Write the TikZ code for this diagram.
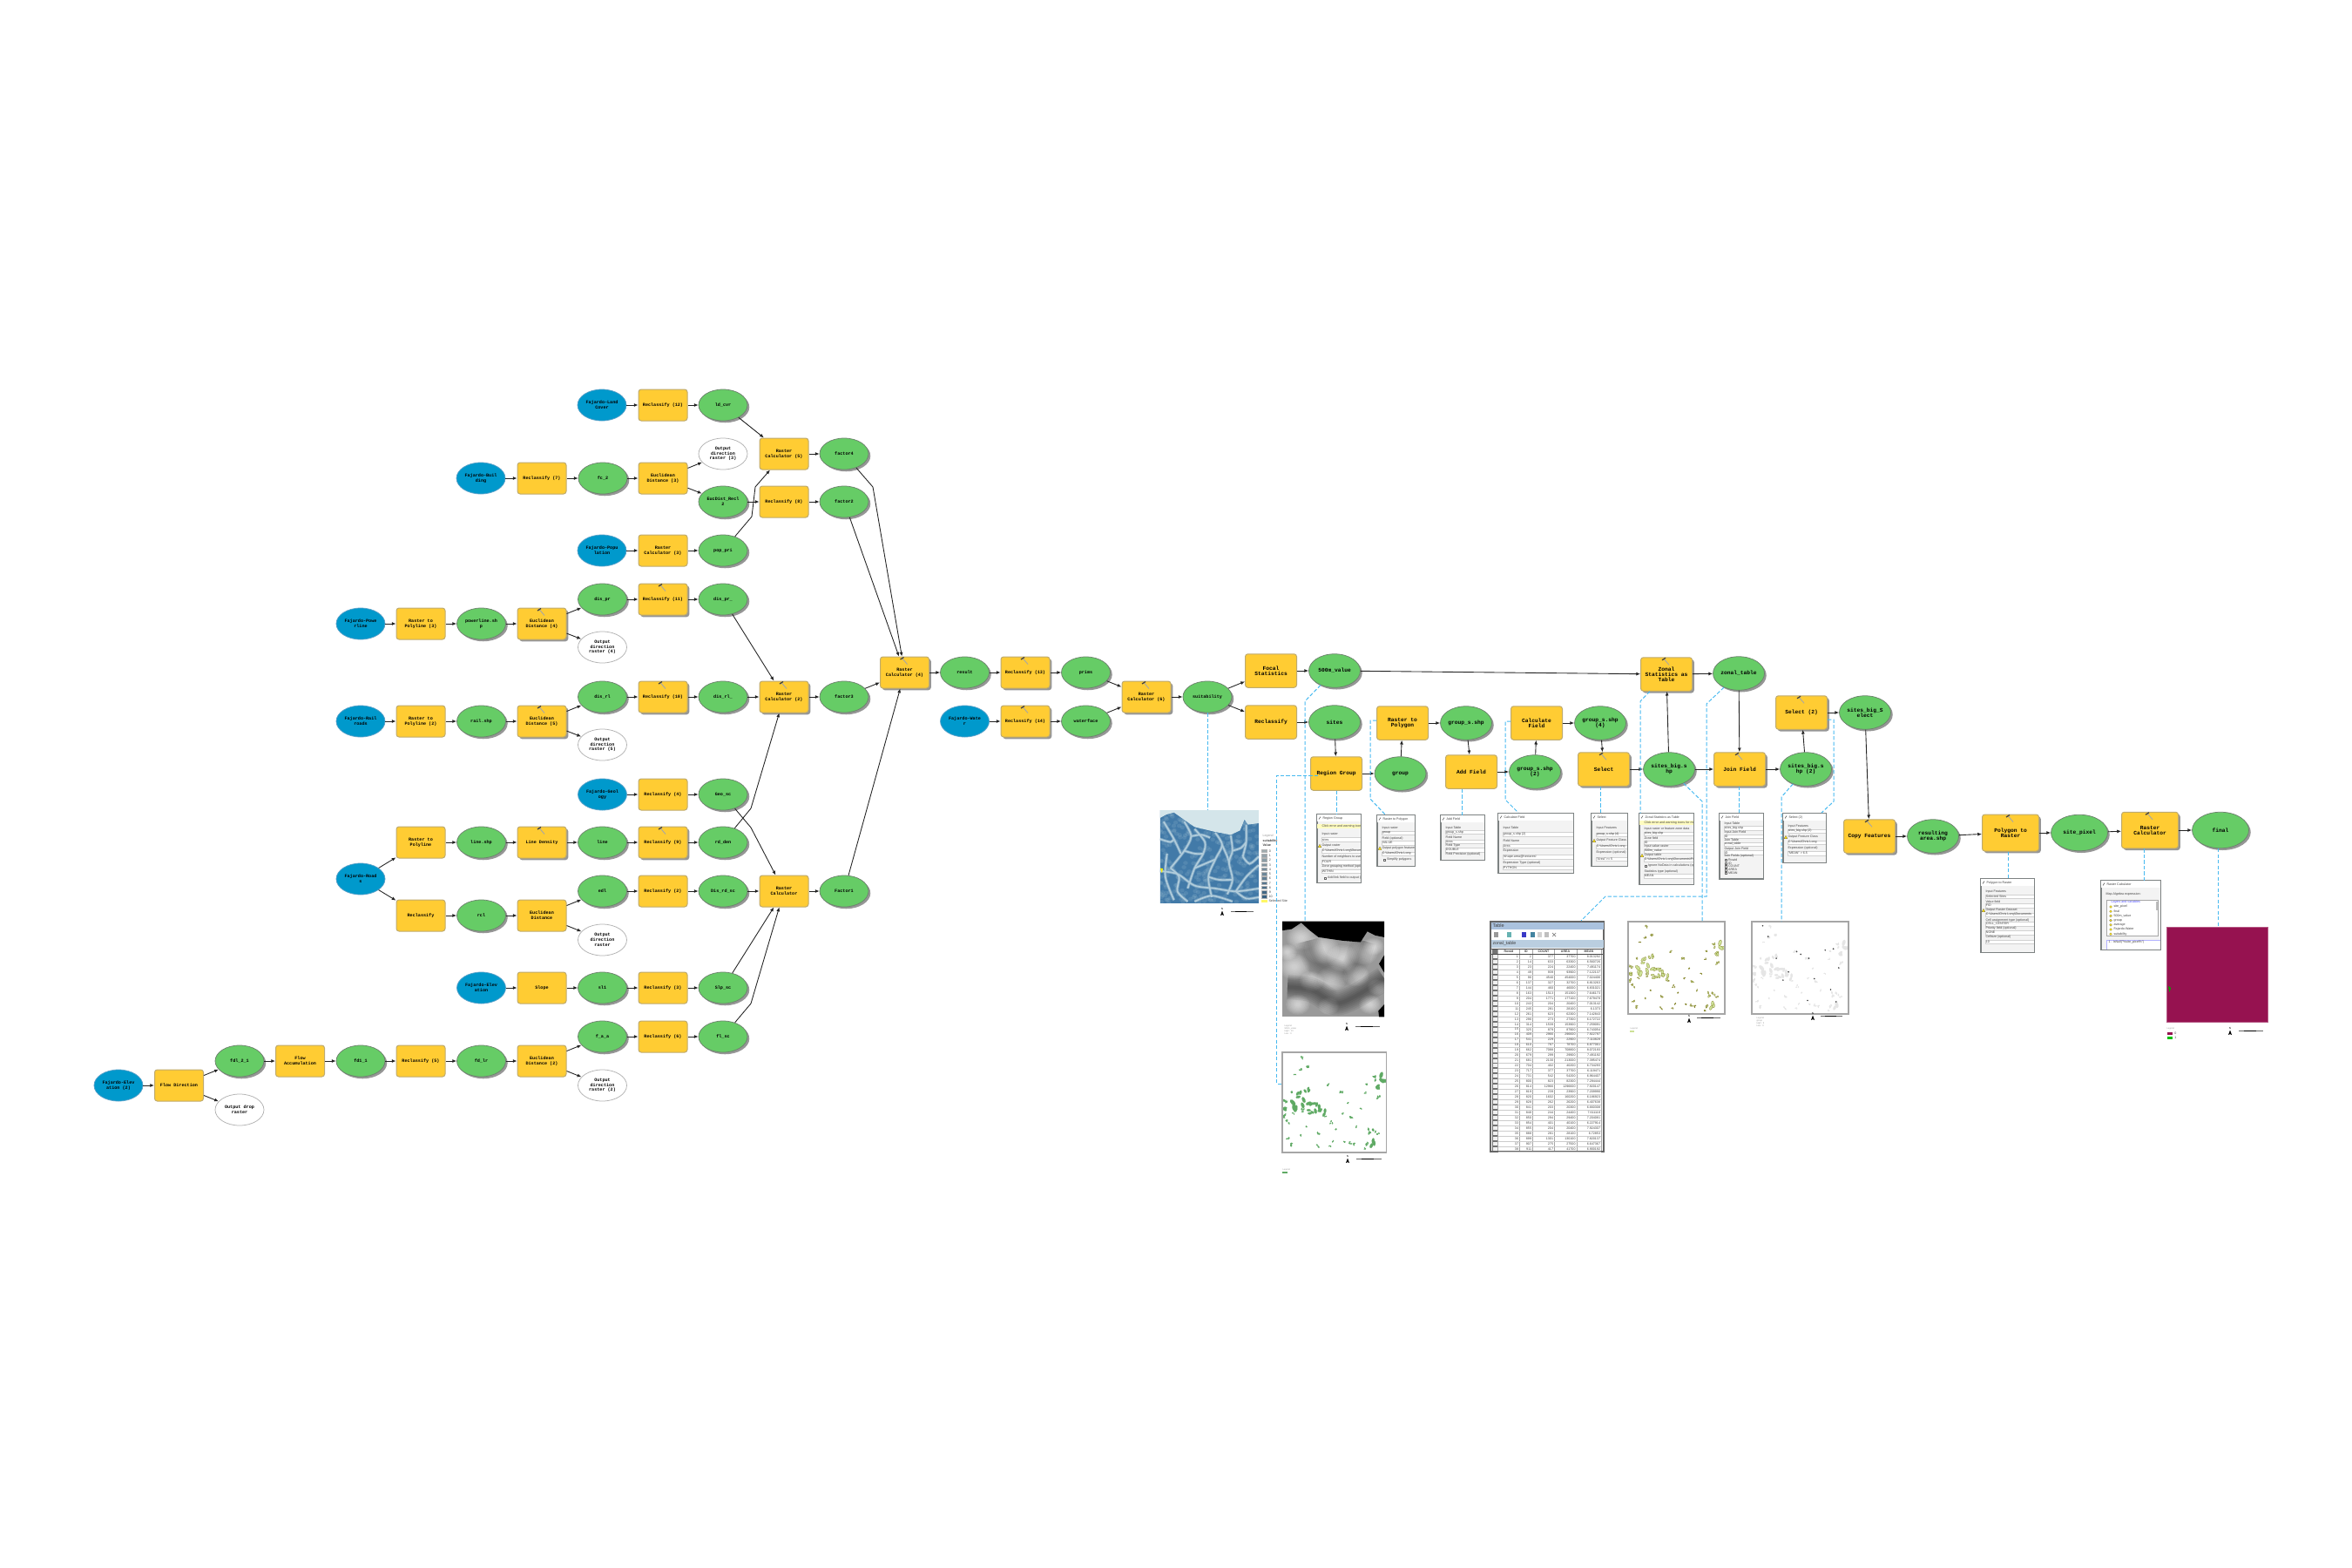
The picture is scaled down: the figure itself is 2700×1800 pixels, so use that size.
\documentclass[tikz,border=0pt]{standalone}
\usepackage{fontspec}
\setmonofont{Liberation Mono}
\setsansfont{Liberation Sans}
\usepackage{xcolor}
\usepackage{tikz}
\usetikzlibrary{shapes}
\usetikzlibrary{shadows}
\usetikzlibrary{arrows.meta}

\definecolor{procfill}{RGB}{255,204,51}
\definecolor{procedge}{RGB}{190,170,110}
\definecolor{datafill}{RGB}{102,204,102}
\definecolor{dataedge}{RGB}{110,130,110}
\definecolor{srcfill}{RGB}{0,153,204}
\definecolor{srcedge}{RGB}{90,160,200}
\definecolor{notecol}{RGB}{70,185,240}
\definecolor{linecol}{RGB}{35,35,35}
\definecolor{shadecol}{RGB}{150,150,150}
\definecolor{winedge}{RGB}{125,130,130}
\definecolor{winbody}{RGB}{243,243,243}
\definecolor{rivercol}{RGB}{176,204,219}
\definecolor{landcol}{RGB}{66,122,168}
\definecolor{seacol}{RGB}{212,229,234}
\definecolor{finalcol}{RGB}{150,18,80}
\definecolor{tablebar}{RGB}{170,194,222}
\definecolor{tabbar}{RGB}{186,206,224}
\definecolor{sitegreen}{RGB}{95,170,100}
\definecolor{sitepale}{RGB}{205,225,150}

\newcommand{\smalltype}{\fontsize{2.05}{2.3}\selectfont\ttfamily\bfseries}
\newcommand{\bigtype}{\fontsize{2.5}{2.4}\selectfont\ttfamily\bfseries}
\newcommand{\wintype}{\fontsize{1.45}{1.6}\selectfont\sffamily}

\tikzset{
  proc/.style={draw=procedge,fill=procfill,line width=0.4pt,rounded corners=1.2pt,minimum width=22.4pt,minimum height=14.4pt,inner sep=0pt,align=center,font=\smalltype},
  blob/.style={ellipse,line width=0.3pt,minimum width=22.4pt,minimum height=14.4pt,inner sep=0pt,inner xsep=-2pt,align=center,font=\smalltype},
  source/.style={blob,draw=srcedge,fill=srcfill},
  dataset/.style={blob,draw=dataedge,fill=datafill,drop shadow={shadow xshift=0.9pt,shadow yshift=-0.9pt,fill=shadecol,opacity=1}},
  spare/.style={blob,draw=gray!60,fill=white},
  wide/.style={minimum width=23.6pt,minimum height=15.4pt,font=\bigtype},
  ran/.style={drop shadow={shadow xshift=0.9pt,shadow yshift=-0.9pt,fill=shadecol,opacity=1}},
  flow/.style={draw=linecol,line width=0.35pt,-{Latex[length=1.9pt,width=1.6pt]}},
  note/.style={draw=notecol,line width=0.4pt,dash pattern=on 1.7pt off 0.9pt},
  winframe/.style={draw=winedge,fill=winbody,line width=0.4pt,inner sep=0pt,minimum width=#1},
  wintext/.style={anchor=west,inner sep=0pt,font=\wintype,text=black!75},
  mapedge/.style={draw=black!35,line width=0.5pt},
  plate/.style={inner sep=0pt,outer sep=0pt},
}

\newcommand{\hammer}[1]{%
  \draw[black!35,line width=0.35pt] (#1.north) ++(-3,2) -- ++(6,7);
  \draw[black!75,line width=0.5pt] (#1.north) ++(-5,3.5) -- ++(4,-2.5);}
\newcommand{\wintitle}[2]{%
  \fill[white] (0,0) rectangle (#1,8);
  \draw[black!70,line width=0.2pt] (2,5.5) -- (4,2.5);
  \node[wintext] at (6,4.2) {#2};}
\newcommand{\winhint}[2]{%
  \fill[yellow!25] (0,#2-2.5) rectangle (#1,#2+2.5);
  \node[wintext] at (5,#2) {Click error and warning icons for more information};}
\newcommand{\winlabel}[2]{\node[wintext] at (5,#1) {#2};}
\newcommand{\winfield}[3]{%
  \fill[white] (5,#2-2.2) rectangle (#1,#2+2.2);
  \draw[black!18,line width=0.1pt] (5,#2-2.2) rectangle (#1,#2+2.2);
  \node[wintext] at (5.4,#2) {#3};}
\newcommand{\winwarn}[1]{\fill[yellow!80!orange,draw=black!60,line width=0.1pt] (1,#1+1.8) -- (3,#1-1.8) -- (5,#1+1.8) -- cycle;}
\newcommand{\wincheck}[3]{%
  \draw[black!60,fill=white,line width=0.15pt] (#1,#2-1.2) rectangle (#1+2.4,#2+1.2);
  \node[wintext] at (#1+3.6,#2) {#3};}

\newcommand{\mapnorth}[2]{%
  \fill[black] (#1,#2-2.5) -- (#1+2,#2+3) -- (#1,#2+2) -- (#1-2,#2+3) -- cycle;
  \node[plate,font=\fontsize{1.2}{1.2}\selectfont\sffamily] at (#1,#2-4.5) {N};}
\newcommand{\mapbar}[3]{%
  \draw[black!60,line width=0.15pt] (#1,#3) -- (#2,#3);
  \draw[black,line width=0.4pt] (#1+0.2*#2-0.2*#1,#3) -- (#1+0.7*#2-0.7*#1,#3);}
\newcommand{\sitespots}[2]{%
  \pgfmathsetseed{11}
  \foreach \sx/\sy/\sr in {134/105/3,152/137/4,128/145/3,410/170/10,383/175/5,390/200/6,355/198/3,398/238/4,350/225/2,222/198/3,268/220/4,290/258/2,335/280/2,150/210/6,130/232/7,118/262/11,150/258/9,175/265/7,190/275/8,205/290/7,165/290/6,135/285/4,100/225/3,80/255/5,75/280/6,72/300/5,85/322/4,105/295/2,235/325/3,215/305/2,305/305/4,275/295/2,87/382/3,102/400/4,192/362/3,240/388/2,187/405/3,230/405/2,365/355/5,380/352/4,395/362/3,378/398/8,360/400/4,350/413/2,300/395/3,315/400/3,110/160/2,150/340/2,250/350/2,320/340/2,130/370/2,280/390/2}{
    \foreach \spotk in {1,2,3}{
      \fill[#1,draw=#2,line width=0.08pt,shift={(\sx-67+rand*\sr*1.5,\sy-87+rand*\sr*1.5)},rotate={rnd*180}] (0,0) ellipse ({\sr*1.1} and {\sr*0.5+0.6});}}}

\begin{document}
\begin{tikzpicture}[x=0.4pt,y=0.4pt,yscale=-1,xscale=1]
\path[use as bounding box] (0,0) rectangle (2700,1800);

% left hand model: land cover, buildings, population
\node[source] (landcover) at (691,465) {Fajardo-Land\\Cover};
\node[proc] (recl12) at (761,465) {Reclassify (12)};
\node[dataset] (ldcvr) at (830,465) {ld\_cvr};
\node[source] (building) at (552,549) {Fajardo-Buil\\ding};
\node[proc] (recl7) at (622,549) {Reclassify (7)};
\node[dataset] (fctwo) at (692,549) {fc\_2};
\node[proc] (eucl3) at (761,549) {Euclidean\\Distance (3)};
\node[spare] (outdir3) at (830,521) {Output\\direction\\raster (3)};
\node[dataset] (eucrecl) at (830,576) {EucDist\_Recl\\2};
\node[proc] (rastcalc5) at (900,521) {Raster\\Calculator (5)};
\node[dataset] (factor4) at (969,521) {factor4};
\node[proc] (recl8) at (900,576) {Reclassify (8)};
\node[dataset] (factor2) at (969,576) {factor2};
\node[source] (popul) at (691,632) {Fajardo-Popu\\lation};
\node[proc] (rastcalc3) at (761,632) {Raster\\Calculator (3)};
\node[dataset] (poppri) at (830,632) {pop\_pri};

% power lines and rail
\node[source] (powerline) at (414,716) {Fajardo-Powe\\rline};
\node[proc] (topoly3) at (483,716) {Raster to\\Polyline (3)};
\node[dataset] (powershp) at (552.5,716) {powerline.sh\\p};
\node[proc,ran] (eucl4) at (622,716) {Euclidean\\Distance (4)};
\node[dataset] (dispr) at (691.5,688) {dis\_pr};
\node[spare] (outdir4) at (691.5,743) {Output\\direction\\raster (4)};
\node[proc,ran] (recl11) at (761,688) {Reclassify (11)};
\node[dataset] (dispra) at (830,688) {dis\_pr\_};
\node[source] (railroad) at (414,828) {Fajardo-Rail\\roads};
\node[proc] (topoly2) at (483,828) {Raster to\\Polyline (2)};
\node[dataset] (railshp) at (552.5,828) {rail.shp};
\node[proc,ran] (eucl5) at (622,828) {Euclidean\\Distance (5)};
\node[dataset] (disrl) at (691.5,800) {dis\_rl};
\node[spare] (outdir5) at (691.5,855) {Output\\direction\\raster (5)};
\node[proc,ran] (recl10) at (761,800) {Reclassify (10)};
\node[dataset] (disrla) at (830,800) {dis\_rl\_};
\node[proc,ran] (rastcalc2) at (900,800) {Raster\\Calculator (2)};
\node[dataset] (factor3) at (969,800) {factor3};

% geology, roads, slope
\node[source] (geology) at (691.5,912) {Fajardo-Geol\\ogy};
\node[proc] (recl4) at (761,912) {Reclassify (4)};
\node[dataset] (geosc) at (830,912) {Geo\_sc};
\node[source] (roads) at (414,1009) {Fajardo-Road\\s};
\node[proc] (topoly) at (483,967) {Raster to\\Polyline};
\node[dataset] (lineshp) at (552.5,967) {line.shp};
\node[proc,ran] (linedens) at (622,967) {Line Density};
\node[dataset] (linedata) at (691.5,967) {line};
\node[proc,ran] (recl9) at (761,967) {Reclassify (9)};
\node[dataset] (rddem) at (830,967) {rd\_den};
\node[proc] (reclroad) at (483,1051) {Reclassify};
\node[dataset] (rcl) at (552.5,1051) {rcl};
\node[proc] (eucl) at (622,1051) {Euclidean\\Distance};
\node[dataset] (edl) at (691.5,1023) {edl};
\node[spare] (outdir) at (691.5,1079) {Output\\direction\\raster};
\node[proc] (recl2) at (761,1023) {Reclassify (2)};
\node[dataset] (disrd) at (830,1023) {Dis\_rd\_sc};
\node[proc] (rastcalc) at (900,1023) {Raster\\Calculator};
\node[dataset] (factor1) at (969,1023) {Factor1};
\node[source] (elev) at (552.5,1134) {Fajardo-Elev\\ation};
\node[proc] (slope) at (622,1134) {Slope};
\node[dataset] (sll) at (691.5,1134) {sl1};
\node[proc] (recl3) at (761,1134) {Reclassify (3)};
\node[dataset] (slpsc) at (830,1134) {Slp\_sc};

% flow
\node[source] (elevtwo) at (136,1246) {Fajardo-Elev\\ation (2)};
\node[proc] (flowdir) at (205.5,1246) {Flow Direction};
\node[dataset] (fdltwo) at (275,1218) {fdl\_2\_1};
\node[spare] (outdrop) at (275,1274) {Output drop\\raster};
\node[proc] (flowacc) at (344.5,1218) {Flow\\Accumulation};
\node[dataset] (fdlone) at (414,1218) {fd1\_1};
\node[proc] (recl5) at (483,1218) {Reclassify (5)};
\node[dataset] (fdlr) at (552.5,1218) {fd\_lr};
\node[proc] (eucl2) at (622,1218) {Euclidean\\Distance (2)};
\node[dataset] (faa) at (691.5,1190) {f\_a\_a};
\node[spare] (outdir2) at (691.5,1246) {Output\\direction\\raster (2)};
\node[proc] (recl6) at (761,1190) {Reclassify (6)};
\node[dataset] (flsc) at (830,1190) {fl\_sc};

% middle: overlay of the factors
\node[proc,ran] (rastcalc4) at (1038.5,772) {Raster\\Calculator (4)};
\node[dataset] (result) at (1107.5,772) {result};
\node[proc,ran] (recl13) at (1177,772) {Reclassify (13)};
\node[dataset] (prims) at (1246.5,772) {prims};
\node[source] (water) at (1107.5,828) {Fajardo-Wate\\r};
\node[proc,ran] (recl14) at (1177,828) {Reclassify (14)};
\node[dataset] (waterface) at (1246.5,828) {waterface};
\node[proc,ran] (rastcalc6) at (1316,800) {Raster\\Calculator (6)};
\node[dataset] (suitab) at (1386,800) {suitability};

% right: selection of the sites
\node[proc,wide] (focal) at (1459,770) {Focal\\Statistics};
\node[dataset,wide] (value) at (1532,770) {500m\_value};
\node[proc,wide] (reclsite) at (1459,829) {Reclassify};
\node[dataset,wide] (sites) at (1532,829) {sites};
\node[proc,wide] (region) at (1534,888) {Region Group};
\node[dataset,wide] (group) at (1607.5,888) {group};
\node[proc,wide] (topolygon) at (1610,830) {Raster to\\Polygon};
\node[dataset,wide] (groupshp) at (1683,830) {group\_s.shp};
\node[proc,wide] (addfield) at (1689,886) {Add Field};
\node[dataset,wide] (groupshptwo) at (1762,886) {group\_s.shp\\(2)};
\node[proc,wide] (calcfield) at (1764,830) {Calculate\\Field};
\node[dataset,wide] (groupshpfour) at (1837,830) {group\_s.shp\\(4)};
\node[proc,wide,ran] (selectone) at (1841,883) {Select};
\node[dataset,wide] (bigshp) at (1916,883) {sites\_big.s\\hp};
\node[proc,wide,ran] (zonal) at (1913,774) {Zonal\\Statistics as\\Table};
\node[dataset,wide] (zonaltable) at (1996,773) {zonal\_table};
\node[proc,wide,ran] (joinfield) at (1997,883) {Join Field};
\node[dataset,wide] (bigshptwo) at (2073,883) {sites\_big.s\\hp (2)};
\node[proc,wide,ran] (selecttwo) at (2068,818) {Select (2)};
\node[dataset,wide] (bigselect) at (2141,818) {sites\_big\_S\\elect};
\node[proc,wide,ran] (copyfeat) at (2146,960) {Copy Features};
\node[dataset,wide] (resarea) at (2219,960) {resulting\\area.shp};
\node[proc,wide,ran,minimum width=26pt,minimum height=16.8pt] (torast) at (2308,956) {Polygon to\\Raster};
\node[dataset,wide,minimum width=26pt,minimum height=16.6pt] (sitepixel) at (2387,956) {site\_pixel};
\node[proc,wide,ran,minimum width=26pt,minimum height=16.6pt] (rastlast) at (2468,953) {Raster\\Calculator};
\node[dataset,wide,minimum width=26pt,minimum height=16.6pt] (final) at (2549,953) {final};

\foreach \ranbox in {eucl4,recl11,eucl5,recl10,rastcalc2,linedens,recl9,rastcalc4,recl13,recl14,rastcalc6,selectone,zonal,joinfield,selecttwo,copyfeat,torast,rastlast}{\hammer{\ranbox}}

% bends of the long connectors
\coordinate (popbenda) at (863,593);
\coordinate (popbendb) at (867,559);
\coordinate (factorbend) at (1002,559);
\coordinate (rdbend) at (862,928);
\coordinate (geobend) at (862,950);
\coordinate (flbend) at (862,1152);

\draw[flow] (landcover) -- (recl12);
\draw[flow] (recl12) -- (ldcvr);
\draw[flow] (ldcvr) -- (rastcalc5);
\draw[flow] (building) -- (recl7);
\draw[flow] (recl7) -- (fctwo);
\draw[flow] (fctwo) -- (eucl3);
\draw[flow] (eucl3) -- (outdir3);
\draw[flow] (eucl3) -- (eucrecl);
\draw[flow] (eucrecl) -- (recl8);
\draw[flow] (recl8) -- (factor2);
\draw[flow] (rastcalc5) -- (factor4);
\draw[flow] (popul) -- (rastcalc3);
\draw[flow] (rastcalc3) -- (poppri);
\draw[flow] (poppri) -- (popbenda) -- (popbendb) -- (rastcalc5);
\draw[flow] (factor4) -- (factorbend) -- (rastcalc4);
\draw[flow] (factor2) -- (rastcalc4);
\draw[flow] (factor3) -- (rastcalc4);
\draw[flow] (factor1) -- (rastcalc4);
\draw[flow] (powerline) -- (topoly3);
\draw[flow] (topoly3) -- (powershp);
\draw[flow] (powershp) -- (eucl4);
\draw[flow] (eucl4) -- (dispr);
\draw[flow] (eucl4) -- (outdir4);
\draw[flow] (dispr) -- (recl11);
\draw[flow] (recl11) -- (dispra);
\draw[flow] (dispra) -- (rastcalc2);
\draw[flow] (railroad) -- (topoly2);
\draw[flow] (topoly2) -- (railshp);
\draw[flow] (railshp) -- (eucl5);
\draw[flow] (eucl5) -- (disrl);
\draw[flow] (eucl5) -- (outdir5);
\draw[flow] (disrl) -- (recl10);
\draw[flow] (recl10) -- (disrla);
\draw[flow] (disrla) -- (rastcalc2);
\draw[flow] (rastcalc2) -- (factor3);
\draw[flow] (geology) -- (recl4);
\draw[flow] (recl4) -- (geosc);
\draw[flow] (geosc) -- (geobend) -- (rastcalc);
\draw[flow] (roads) -- (topoly);
\draw[flow] (roads) -- (reclroad);
\draw[flow] (topoly) -- (lineshp);
\draw[flow] (lineshp) -- (linedens);
\draw[flow] (linedens) -- (linedata);
\draw[flow] (linedata) -- (recl9);
\draw[flow] (recl9) -- (rddem);
\draw[flow] (rddem) -- (rdbend) -- (rastcalc2);
\draw[flow] (reclroad) -- (rcl);
\draw[flow] (rcl) -- (eucl);
\draw[flow] (eucl) -- (edl);
\draw[flow] (eucl) -- (outdir);
\draw[flow] (edl) -- (recl2);
\draw[flow] (recl2) -- (disrd);
\draw[flow] (disrd) -- (rastcalc);
\draw[flow] (rastcalc) -- (factor1);
\draw[flow] (elev) -- (slope);
\draw[flow] (slope) -- (sll);
\draw[flow] (sll) -- (recl3);
\draw[flow] (recl3) -- (slpsc);
\draw[flow] (slpsc) -- (rastcalc);
\draw[flow] (elevtwo) -- (flowdir);
\draw[flow] (flowdir) -- (fdltwo);
\draw[flow] (flowdir) -- (outdrop);
\draw[flow] (fdltwo) -- (flowacc);
\draw[flow] (flowacc) -- (fdlone);
\draw[flow] (fdlone) -- (recl5);
\draw[flow] (recl5) -- (fdlr);
\draw[flow] (fdlr) -- (eucl2);
\draw[flow] (eucl2) -- (faa);
\draw[flow] (eucl2) -- (outdir2);
\draw[flow] (faa) -- (recl6);
\draw[flow] (recl6) -- (flsc);
\draw[flow] (flsc) -- (flbend) -- (rastcalc);
\draw[flow] (rastcalc4) -- (result);
\draw[flow] (result) -- (recl13);
\draw[flow] (recl13) -- (prims);
\draw[flow] (water) -- (recl14);
\draw[flow] (recl14) -- (waterface);
\draw[flow] (prims) -- (rastcalc6);
\draw[flow] (waterface) -- (rastcalc6);
\draw[flow] (rastcalc6) -- (suitab);
\draw[flow] (suitab) -- (focal);
\draw[flow] (suitab) -- (reclsite);
\draw[flow] (focal) -- (value);
\draw[flow] (reclsite) -- (sites);
\draw[flow] (value) -- (zonal);
\draw[flow] (sites) -- (region);
\draw[flow] (region) -- (group);
\draw[flow] (group) -- (topolygon);
\draw[flow] (topolygon) -- (groupshp);
\draw[flow] (groupshp) -- (addfield);
\draw[flow] (addfield) -- (groupshptwo);
\draw[flow] (groupshptwo) -- (calcfield);
\draw[flow] (calcfield) -- (groupshpfour);
\draw[flow] (groupshpfour) -- (selectone);
\draw[flow] (selectone) -- (bigshp);
\draw[flow] (bigshp) -- (zonal);
\draw[flow] (bigshp) -- (joinfield);
\draw[flow] (zonal) -- (zonaltable);
\draw[flow] (zonaltable) -- (joinfield);
\draw[flow] (joinfield) -- (bigshptwo);
\draw[flow] (bigshptwo) -- (selecttwo);
\draw[flow] (selecttwo) -- (bigselect);
\draw[flow] (bigselect) -- (copyfeat);
\draw[flow] (copyfeat) -- (resarea);
\draw[flow] (resarea) -- (torast);
\draw[flow] (torast) -- (sitepixel);
\draw[flow] (sitepixel) -- (rastlast);
\draw[flow] (rastlast) -- (final);

% suitability map
\node[plate,minimum width=45.2pt,minimum height=42.8pt] (mapsuit) at (1388,983.5) {};
\begin{scope}[shift={(1320,920)},xscale=0.395,yscale=0.333]
\clip (30,30) rectangle (316,350);
\fill[landcol] (28,30) rectangle (316,350);
\pgfmathsetseed{5}
\foreach \speck in {1,...,320}{\fill[rivercol,opacity=0.16] (30+rnd*286,40+rnd*310) circle (7);}
\fill[seacol] (28,30) -- (316,30) -- (316,75) -- (285,80) -- (275,62) -- (262,100) -- (235,115) -- (190,105) -- (130,88) -- (90,55) -- (70,38) -- (48,45) -- (28,58) -- cycle;
\foreach \rivwd/\rivcol in {3.4/landcol!55!rivercol,1.7/rivercol}{
\draw[\rivcol,line width=\rivwd*0.4pt] plot[smooth] coordinates {(100,70) (120,120) (100,170) (60,230)};
\draw[\rivcol,line width=\rivwd*0.4pt] plot[smooth] coordinates {(130,95) (160,140) (155,180) (130,230) (110,300)};
\draw[\rivcol,line width=\rivwd*0.4pt] plot[smooth] coordinates {(190,108) (210,150) (190,200) (170,260) (180,330)};
\draw[\rivcol,line width=\rivwd*0.4pt] plot[smooth] coordinates {(235,118) (240,170) (230,210) (240,270) (225,320)};
\draw[\rivcol,line width=\rivwd*0.4pt] plot[smooth] coordinates {(280,80) (280,140) (270,190)};
\draw[\rivcol,line width=\rivwd*0.4pt] plot[smooth] coordinates {(40,70) (70,130) (90,180)};
\draw[\rivcol,line width=\rivwd*0.4pt] plot[smooth] coordinates {(28,240) (80,250) (130,290) (190,300) (250,310) (316,300)};
\draw[\rivcol,line width=\rivwd*0.4pt] plot[smooth] coordinates {(316,220) (280,260) (250,310)};
\draw[\rivcol,line width=\rivwd*0.4pt] plot[smooth] coordinates {(50,180) (45,260) (70,340)};
\draw[\rivcol,line width=\rivwd*0.4pt] plot[smooth] coordinates {(130,345) (180,325) (240,345)};
\draw[\rivcol,line width=\rivwd*0.4pt] plot[smooth] coordinates {(120,120) (150,115) (175,125)};
\draw[\rivcol,line width=\rivwd*0.4pt] plot[smooth] coordinates {(100,170) (130,180) (155,180)};
\draw[\rivcol,line width=\rivwd*0.4pt] plot[smooth] coordinates {(210,150) (225,190) (230,210)};
\draw[\rivcol,line width=\rivwd*0.4pt] plot[smooth] coordinates {(190,200) (160,215) (130,230)};
\draw[\rivcol,line width=\rivwd*0.4pt] plot[smooth] coordinates {(240,170) (265,160) (280,140)};
\draw[\rivcol,line width=\rivwd*0.4pt] plot[smooth] coordinates {(270,190) (290,215) (316,190)};
\draw[\rivcol,line width=\rivwd*0.4pt] plot[smooth] coordinates {(60,230) (85,260) (80,310) (110,345)};
\draw[\rivcol,line width=\rivwd*0.4pt] plot[smooth] coordinates {(170,260) (200,270) (240,270)};
\draw[\rivcol,line width=\rivwd*0.4pt] plot[smooth] coordinates {(30,130) (60,140) (70,130)};
\draw[\rivcol,line width=\rivwd*0.4pt] plot[smooth] coordinates {(250,310) (280,335) (316,330)};
}
\fill[yellow] (30,230) -- (38,232) -- (35,247) -- cycle;
\end{scope}
\node[wintext,text=black!40] at (1449,960) {Legend};
\node[wintext,font=\wintype\bfseries] at (1449,965.5) {suitability};
\node[wintext,font=\wintype\bfseries] at (1449,970.5) {Value};
\foreach \lgval [count=\lgno from 0] in {0,1,2,3,4,5,6,7,8,9,10}{
  \pgfmathsetmacro{\lgmix}{100-\lgno*9.5}
  \draw[black!30,line width=0.1pt,fill=seacol!\lgmix!landcol!75!black] (1448,975+\lgno*5.25) rectangle (1454.5,978.5+\lgno*5.25);
  \node[wintext] at (1456,977+\lgno*5.25) {\lgval};}
\fill[yellow!60] (1448,1032.5) rectangle (1454.5,1036);
\node[wintext] at (1456,1034.3) {Selected Site};
\mapnorth{1403}{1048}
\mapbar{1413}{1439}{1046}

% focal statistics map
\node[plate,minimum width=46.8pt,minimum height=44pt] (mapfocal) at (1530.5,1113) {};
\begin{scope}[shift={(1320,920)},xscale=0.395,yscale=0.333]
\clip (385,413) rectangle (681,743);
\fill[black!40] (385,413) rectangle (681,743);
\foreach \gx/\gy/\gr in {440/470/34,500/510/40,560/540/36,620/520/34,420/570/36,470/620/28,530/610/34,600/600/30,650/500/24,640/700/26,430/700/28,520/705/24,400/520/22,660/640/22}{
  \foreach \gf in {1,0.9,0.8,0.7,0.6,0.5,0.4,0.3,0.2}{\fill[white,opacity=0.085] (\gx,\gy) circle ({\gr*1.25*\gf});}}
\foreach \gwd in {28,24,20,16,12,8,4}{
  \draw[black,opacity=0.07,line width=\gwd*0.4pt] plot[smooth] coordinates {(400,640) (470,650) (540,695) (600,670) (681,610)};
  \draw[black,opacity=0.04,line width=\gwd*0.4pt] plot[smooth] coordinates {(460,480) (490,560) (580,590) (620,480)};}
\fill[black] (385,413) -- (681,413) -- (681,468) -- (655,462) -- (632,448) -- (612,485) -- (560,480) -- (490,468) -- (462,442) -- (440,418) -- (412,440) -- (385,445) -- cycle;
\fill[black] (681,530) -- (666,560) -- (681,590) -- cycle;
\fill[black] (681,700) -- (664,722) -- (666,743) -- (681,743) -- cycle;
\end{scope}
\node[wintext,font=\fontsize{1}{1.1}\selectfont\sffamily,text=black!40,align=left] at (1474,1182) {Legend\\500m\_value\\High : 10\\Low : 0};
\mapnorth{1546}{1180}
\mapbar{1556}{1584}{1178}

% selected sites maps
\node[plate,minimum width=47.8pt,minimum height=46pt] (mapgreen) at (1531.7,1265.5) {};
\begin{scope}[shift={(1472,1208)},xscale=0.3357,yscale=0.338]
\fill[white] (0,0) rectangle (356,340);
\clip (0,0) rectangle (356,340);
\sitespots{sitegreen}{sitegreen}
\end{scope}
\draw[mapedge] (mapgreen.south west) rectangle (mapgreen.north east);
\node[wintext,font=\fontsize{1}{1.1}\selectfont\sffamily,text=black!40] at (1472,1342.5) {Legend};
\fill[sitegreen] (1472,1344.5) rectangle (1478,1346.5);
\mapnorth{1547}{1332}
\mapbar{1557}{1586}{1330}

\node[plate,minimum width=44.4pt,minimum height=42.4pt] (mapsitesa) at (1924.5,1111) {};
\begin{scope}[shift={(1869,1058)},xscale=0.312,yscale=0.312]
\clip (0,0) rectangle (356,340);
\sitespots{sitepale}{olive!80!black}
\end{scope}
\draw[mapedge] (mapsitesa.south west) rectangle (mapsitesa.north east);
\node[wintext,font=\fontsize{1}{1.1}\selectfont\sffamily,text=black!40] at (1871,1181) {Legend};
\fill[sitepale] (1871,1183) rectangle (1876,1185);
\mapnorth{1939}{1171}
\mapbar{1948}{1975}{1168}

\node[plate,minimum width=44.4pt,minimum height=42.4pt] (mapsitesb) at (2066.5,1111) {};
\begin{scope}[shift={(2011,1058)},xscale=0.312,yscale=0.312]
\clip (0,0) rectangle (356,340);
\sitespots{black!10}{black!10}
\foreach \dx/\dy in {40/15,60/55,165/110,210/135,270/105,300/100,320/170,135/185,180/120,90/135,290/250,230/210,115/215,310/295,205/290}{\fill[black!75] (\dx,\dy) circle (3);}
\end{scope}
\draw[mapedge] (mapsitesb.south west) rectangle (mapsitesb.north east);
\node[wintext,font=\fontsize{1}{1.1}\selectfont\sffamily,text=black!40,align=left] at (2016,1173) {Legend\\group\\High : 9\\Low : 0};
\mapnorth{2081}{1168}
\mapbar{2090}{2115}{1166}

% final map
\node[plate,fill=finalcol,draw=finalcol!70!white,line width=0.3pt,minimum width=46.4pt,minimum height=43.6pt] (mapfinal) at (2545,1118.5) {};
\fill[green!65!black] (2489,1132) -- (2492,1134) -- (2490.5,1139) -- cycle;
\node[wintext,font=\fontsize{1}{1.1}\selectfont\sffamily,text=black!40] at (2487,1181) {Legend};
\fill[finalcol] (2487.5,1184.5) rectangle (2494,1187.5);
\node[wintext] at (2495.5,1186) {0};
\fill[green!75!black] (2487.5,1189.5) rectangle (2494,1192.5);
\node[wintext] at (2495.5,1191) {1};
\mapnorth{2560}{1185}
\mapbar{2570}{2598}{1183}

% attribute table
\node[plate,draw=black!60,fill=white,line width=0.8pt,minimum width=52pt,minimum height=105.6pt] (tablewin) at (1776,1190) {};
\fill[tablebar] (1711.5,1058.5) rectangle (1840.5,1067);
\node[wintext,font=\fontsize{2.2}{2.3}\selectfont\sffamily] at (1713,1063) {Table};
\fill[tabbar] (1711.5,1079) rectangle (1840.5,1088);
\node[wintext,font=\fontsize{2.1}{2.3}\selectfont\sffamily] at (1713,1083.5) {zonal\_table};
\foreach \icx/\iccol in {1715/black!40,1730/teal!60,1747/blue!55!gray,1757/cyan!60!black,1765/black!18,1773/black!25}{\fill[\iccol] (\icx,1070) rectangle (\icx+5,1075.5);}
\draw[black!45,line width=0.3pt] (1782,1071) -- (1786,1075) (1786,1071) -- (1782,1075);
\fill[black!55] (1712.5,1089) rectangle (1719,1321);
\foreach \colx in {1719.5,1744.5,1759.5,1784.5,1810,1838.5}{\draw[black!35,line width=0.15pt] (\colx,1089) -- (\colx,1321);}
\draw[black!70,line width=0.4pt] (1712,1089) -- (1840,1089) (1712,1095) -- (1840,1095);
\node[wintext,anchor=center,font=\wintype\bfseries] at (1732,1092) {Rowid};
\node[wintext,anchor=center,font=\wintype\bfseries] at (1752,1092) {ID};
\node[wintext,anchor=center,font=\wintype\bfseries] at (1772,1092) {COUNT};
\node[wintext,anchor=center,font=\wintype\bfseries] at (1797,1092) {AREA};
\node[wintext,anchor=center,font=\wintype\bfseries] at (1824,1092) {MEAN};
\foreach \zid/\zcount/\zarea/\zmean [count=\rowno from 1] in {2/377/37700/8.013292,14/633/63300/6.560726,23/224/22400/7.491174,49/939/93900/7.122137,90/4540/454000/7.024406,137/327/32700/6.813263,144/460/46000/6.831021,163/1513/151300/7.646173,204/1771/177100/7.679478,243/204/20400/7.013142,245/281/28100/6.1373,261/623/62300/7.142843,290/273/27300/6.172722,314/1539/153900/7.259091,325/879/87900/6.743054,409/2966/296600/7.922797,541/229/22900/7.110828,610/787/78700/6.877061,662/7088/708800/8.072193,679/299/29900/7.491192,681/2130/213000/7.395474,704/402/40200/6.734293,717/377/37700/6.119471,731/542/54200/6.964407,800/823/82300/7.294444,814/12966/1296600/7.920147,819/239/23900/7.209990,820/1602/160200/6.186923,828/262/26200/6.407638,841/203/20300/6.660308,848/244/24400/7.611118,850/294/29400/7.204081,854/401/40100/6.227914,855/204/20400/7.924307,888/281/28100/6.72853,899/1301/130100/7.820137,907/275/27500/6.647367,911/417/41700/6.900192}{
  \pgfmathsetmacro{\rowy}{1098.3+5.96*(\rowno-1)}
  \fill[black!6] (1713.5,\rowy-2) rectangle (1718.5,\rowy+2);
  \draw[black!20,line width=0.1pt] (1720,\rowy+2.98) -- (1838,\rowy+2.98);
  \node[wintext,anchor=east] at (1743.5,\rowy) {\rowno};
  \node[wintext,anchor=east] at (1758.5,\rowy) {\zid};
  \node[wintext,anchor=east] at (1783.5,\rowy) {\zcount};
  \node[wintext,anchor=east] at (1809,\rowy) {\zarea};
  \node[wintext,anchor=east] at (1837.5,\rowy) {\zmean};}

% tool dialogs
\node[winframe=20pt,minimum height=31.2pt] (winregion) at (1537,974) {};
\begin{scope}[shift={(1512,935)}]
\clip (0,0) rectangle (50,78);
\wintitle{50}{Region Group}
\winhint{50}{13.5}
\winlabel{23}{Input raster}
\winfield{50}{28.7}{sites}
\winwarn{36}
\winlabel{36}{Output raster}
\winfield{50}{42}{C:\textbackslash Users\textbackslash Chris Long\textbackslash Documents}
\winlabel{49}{Number of neighbors to use (optional)}
\winfield{50}{54.6}{FOUR}
\winlabel{60}{Zone grouping method (optional)}
\winfield{50}{65.3}{WITHIN}
\wincheck{8}{73}{Add link field to output (optional)}
\end{scope}
\node[winframe=17.2pt,minimum height=23.2pt] (winpolygon) at (1602.5,965) {};
\begin{scope}[shift={(1581,936)}]
\clip (0,0) rectangle (43,58);
\wintitle{43}{Raster to Polygon}
\winlabel{14.7}{Input raster}
\winfield{43}{20}{group}
\winlabel{26.5}{Field (optional)}
\winfield{43}{31.5}{VALUE}
\winwarn{37.7}
\winlabel{37.7}{Output polygon features}
\winfield{43}{44}{C:\textbackslash Users\textbackslash Chris Long}
\wincheck{7}{51}{Simplify polygons}
\end{scope}
\node[winframe=20pt,minimum height=20.4pt] (winadd) at (1679,961.5) {};
\begin{scope}[shift={(1654,936)}]
\clip (0,0) rectangle (50,51);
\wintitle{50}{Add Field}
\winlabel{14.5}{Input Table}
\winfield{50}{19.3}{group\_s.shp}
\winlabel{25.5}{Field Name}
\winfield{50}{30}{Area}
\winlabel{35}{Field Type}
\winfield{50}{39.6}{DOUBLE}
\winlabel{45}{Field Precision (optional)}
\end{scope}
\node[winframe=34.4pt,minimum height=27.2pt] (wincalc) at (1763,968) {};
\begin{scope}[shift={(1720,934)}]
\clip (0,0) rectangle (86,68);
\wintitle{86}{Calculate Field}
\winlabel{17}{Input Table}
\winfield{86}{23.5}{group\_s.shp (2)}
\winlabel{31}{Field Name}
\winfield{86}{37}{Area}
\winlabel{43}{Expression}
\winfield{86}{49.5}{!shape.area@hectares!}
\winlabel{57}{Expression Type (optional)}
\winfield{86}{62}{PYTHON}
\end{scope}
\node[winframe=16.4pt,minimum height=24pt] (winselect) at (1847.5,964) {};
\begin{scope}[shift={(1827,934)}]
\clip (0,0) rectangle (41,60);
\wintitle{41}{Select}
\winlabel{17}{Input Features}
\winfield{41}{24}{group\_s.shp (4)}
\winwarn{31}
\winlabel{31}{Output Feature Class}
\winfield{41}{38}{C:\textbackslash Users\textbackslash Chris Long}
\winlabel{45}{Expression (optional)}
\winfield{41}{52}{"Area" >= 5}
\end{scope}
\node[winframe=24.8pt,minimum height=32.4pt] (winzonal) at (1913,974.5) {};
\begin{scope}[shift={(1882,934)}]
\clip (0,0) rectangle (62,81);
\wintitle{62}{Zonal Statistics as Table}
\winhint{62}{10.5}
\winlabel{18}{Input raster or feature zone data}
\winfield{62}{23}{sites\_big.shp}
\winlabel{28.5}{Zone field}
\winfield{62}{33}{ID}
\winlabel{38}{Input value raster}
\winfield{62}{43}{500m\_value}
\winwarn{48}
\winlabel{48}{Output table}
\winfield{62}{53}{C:\textbackslash Users\textbackslash Chris Long\textbackslash Documents\textbackslash Final}
\wincheck{6}{60}{Ignore NoData in calculations (optional)}
\winlabel{67}{Statistics type (optional)}
\winfield{62}{71.5}{MEAN}
\end{scope}
\node[winframe=20pt,minimum height=29.8pt] (winjoin) at (1999,971.5) {};
\begin{scope}[shift={(1974,934)}]
\clip (0,0) rectangle (50,74.5);
\wintitle{50}{Join Field}
\winlabel{12}{Input Table}
\winfield{50}{16.5}{sites\_big.shp}
\winlabel{21.5}{Input Join Field}
\winfield{50}{26}{ID}
\winlabel{30.5}{Join Table}
\winfield{50}{35}{zonal\_table}
\winlabel{40.5}{Output Join Field}
\winfield{50}{44.8}{ID}
\winlabel{49}{Join Fields (optional)}
\wincheck{6}{53}{Rowid}
\wincheck{6}{57}{ID}
\wincheck{6}{60.5}{COUNT}
\wincheck{6}{64.5}{AREA}
\wincheck{6}{68}{MEAN}
\end{scope}
\node[winframe=19.6pt,minimum height=22.4pt] (winselecttwo) at (2071.5,962) {};
\begin{scope}[shift={(2047,934)}]
\clip (0,0) rectangle (49,56);
\wintitle{49}{Select (2)}
\winlabel{14.5}{Input Features}
\winfield{49}{20}{sites\_big.shp (2)}
\winwarn{27}
\winlabel{27}{Output Feature Class}
\winfield{49}{33}{C:\textbackslash Users\textbackslash Chris Long}
\winlabel{39.5}{Expression (optional)}
\winfield{49}{45.5}{"MEAN" > 6.5}
\end{scope}
\node[winframe=24.4pt,minimum height=33.6pt] (wintorast) at (2304.5,1051) {};
\begin{scope}[shift={(2274,1009)}]
\clip (0,0) rectangle (61,84);
\wintitle{61}{Polygon to Raster}
\winlabel{15}{Input Features}
\winfield{61}{20}{Selected Sites}
\winlabel{26}{Value field}
\winfield{61}{30.5}{FID}
\winwarn{36}
\winlabel{36}{Output Raster Dataset}
\winfield{61}{41}{C:\textbackslash Users\textbackslash Chris Long\textbackslash Documents}
\winlabel{47.5}{Cell assignment type (optional)}
\winfield{61}{51.6}{CELL\_CENTER}
\winlabel{57}{Priority field (optional)}
\winfield{61}{61.6}{NONE}
\winlabel{67}{Cellsize (optional)}
\winfield{61}{72}{10}
\end{scope}
\node[winframe=27.2pt,minimum height=31.6pt] (winlast) at (2446,1050.5) {};
\begin{scope}[shift={(2412,1011)}]
\clip (0,0) rectangle (68,79);
\wintitle{68}{Raster Calculator}
\winlabel{15.6}{Map Algebra expression:}
\fill[white] (6,22) rectangle (65,63);
\draw[black!35,line width=0.1pt] (6,22) rectangle (65,63);
\node[wintext,text=blue!70] at (11,25) {Layers and variables};
\foreach \lyrname [count=\lyrno from 0] in {site\_pixel,final,500m\_value,group,average,Fajardo-Water,suitability}{
  \fill[yellow!85!orange,draw=black!50,line width=0.1pt] (11,30+\lyrno*5.2) circle (1.5);
  \node[wintext] at (14,30+\lyrno*5.2) {\lyrname};}
\fill[black!25] (63,24) rectangle (65,34);
\fill[white] (6,68) rectangle (68,79);
\draw[blue!30,line width=0.15pt] (6,68) rectangle (68,79);
\node[wintext] at (8,71) {1 - IsNull("\%site\_pixel\%")};
\end{scope}
% frames go over the clipped contents
\foreach \winname in {winregion,winpolygon,winadd,wincalc,winselect,winzonal,winjoin,winselecttwo,wintorast,winlast}{\draw[draw=winedge,line width=0.4pt] (\winname.south west) rectangle (\winname.north east);}

% bends of the dashed links
\coordinate (valuebend) at (1498,805);
\coordinate (groupstart) at (1513,890);
\coordinate (groupcorner) at (1465.6,890);
\coordinate (groupdown) at (1465.6,1244);
\coordinate (polyleft) at (1573,827);
\coordinate (polydown) at (1573,917);
\coordinate (polyend) at (1590,935);
\coordinate (calcleft) at (1728,828);
\coordinate (calcdown) at (1728,918);
\coordinate (calcend) at (1743,933);
\coordinate (zonalbend) at (1883,805);
\coordinate (tablebend) at (1959,808);
\coordinate (tabledown) at (1959,1029);
\coordinate (tableleft) at (1843,1029);
\coordinate (tableend) at (1815,1057);
\coordinate (bigbend) at (1954,920);
\coordinate (bigtwobend) at (2045,915);
\coordinate (selectright) at (2105,826);
\coordinate (selectdown) at (2105,920);
\coordinate (selectend) at (2091,933);

\draw[note] (suitab) -- (suitab |- mapsuit.north);
\draw[note] (value) -- (valuebend) -- (valuebend |- mapfocal.north);
\draw[note] (groupstart) -- (groupcorner) -- (groupdown) -- (groupdown -| mapgreen.west);
\draw[note] (region) -- (region |- winregion.north);
\draw[note] (topolygon.west |- polyleft) -- (polyleft) -- (polydown) -- (polyend);
\draw[note] ([xshift=-4.4pt]addfield.south) -- ([xshift=-4.4pt]addfield.south |- winadd.north);
\draw[note] (calcfield.west |- calcleft) -- (calcleft) -- (calcdown) -- (calcend);
\draw[note] ([xshift=-1.6pt]selectone.south) -- ([xshift=-1.6pt]selectone.south |- winselect.north);
\draw[note] (zonal) -- (zonalbend) -- (zonalbend |- winzonal.north);
\draw[note] (zonaltable) -- (tablebend) -- (tabledown) -- (tableleft) -- (tableend);
\draw[note] (bigshp) -- (bigbend) -- (bigbend |- mapsitesa.north);
\draw[note] ([xshift=-0.4pt]joinfield.south) -- ([xshift=-0.4pt]joinfield.south |- winjoin.north);
\draw[note] (bigshptwo) -- (bigtwobend) -- (bigtwobend |- mapsitesb.north);
\draw[note] (selecttwo.east |- selectright) -- (selectright) -- (selectdown) -- (selectend);
\draw[note] ([xshift=-1.2pt]torast.south) -- ([xshift=-1.2pt]torast.south |- wintorast.north);
\draw[note] ([xshift=-2.8pt]rastlast.south) -- ([xshift=-2.8pt]rastlast.south |- winlast.north);
\draw[note] ([xshift=-1.2pt]final.south) -- ([xshift=-1.2pt]final.south |- mapfinal.north);

\end{tikzpicture}
\end{document}
